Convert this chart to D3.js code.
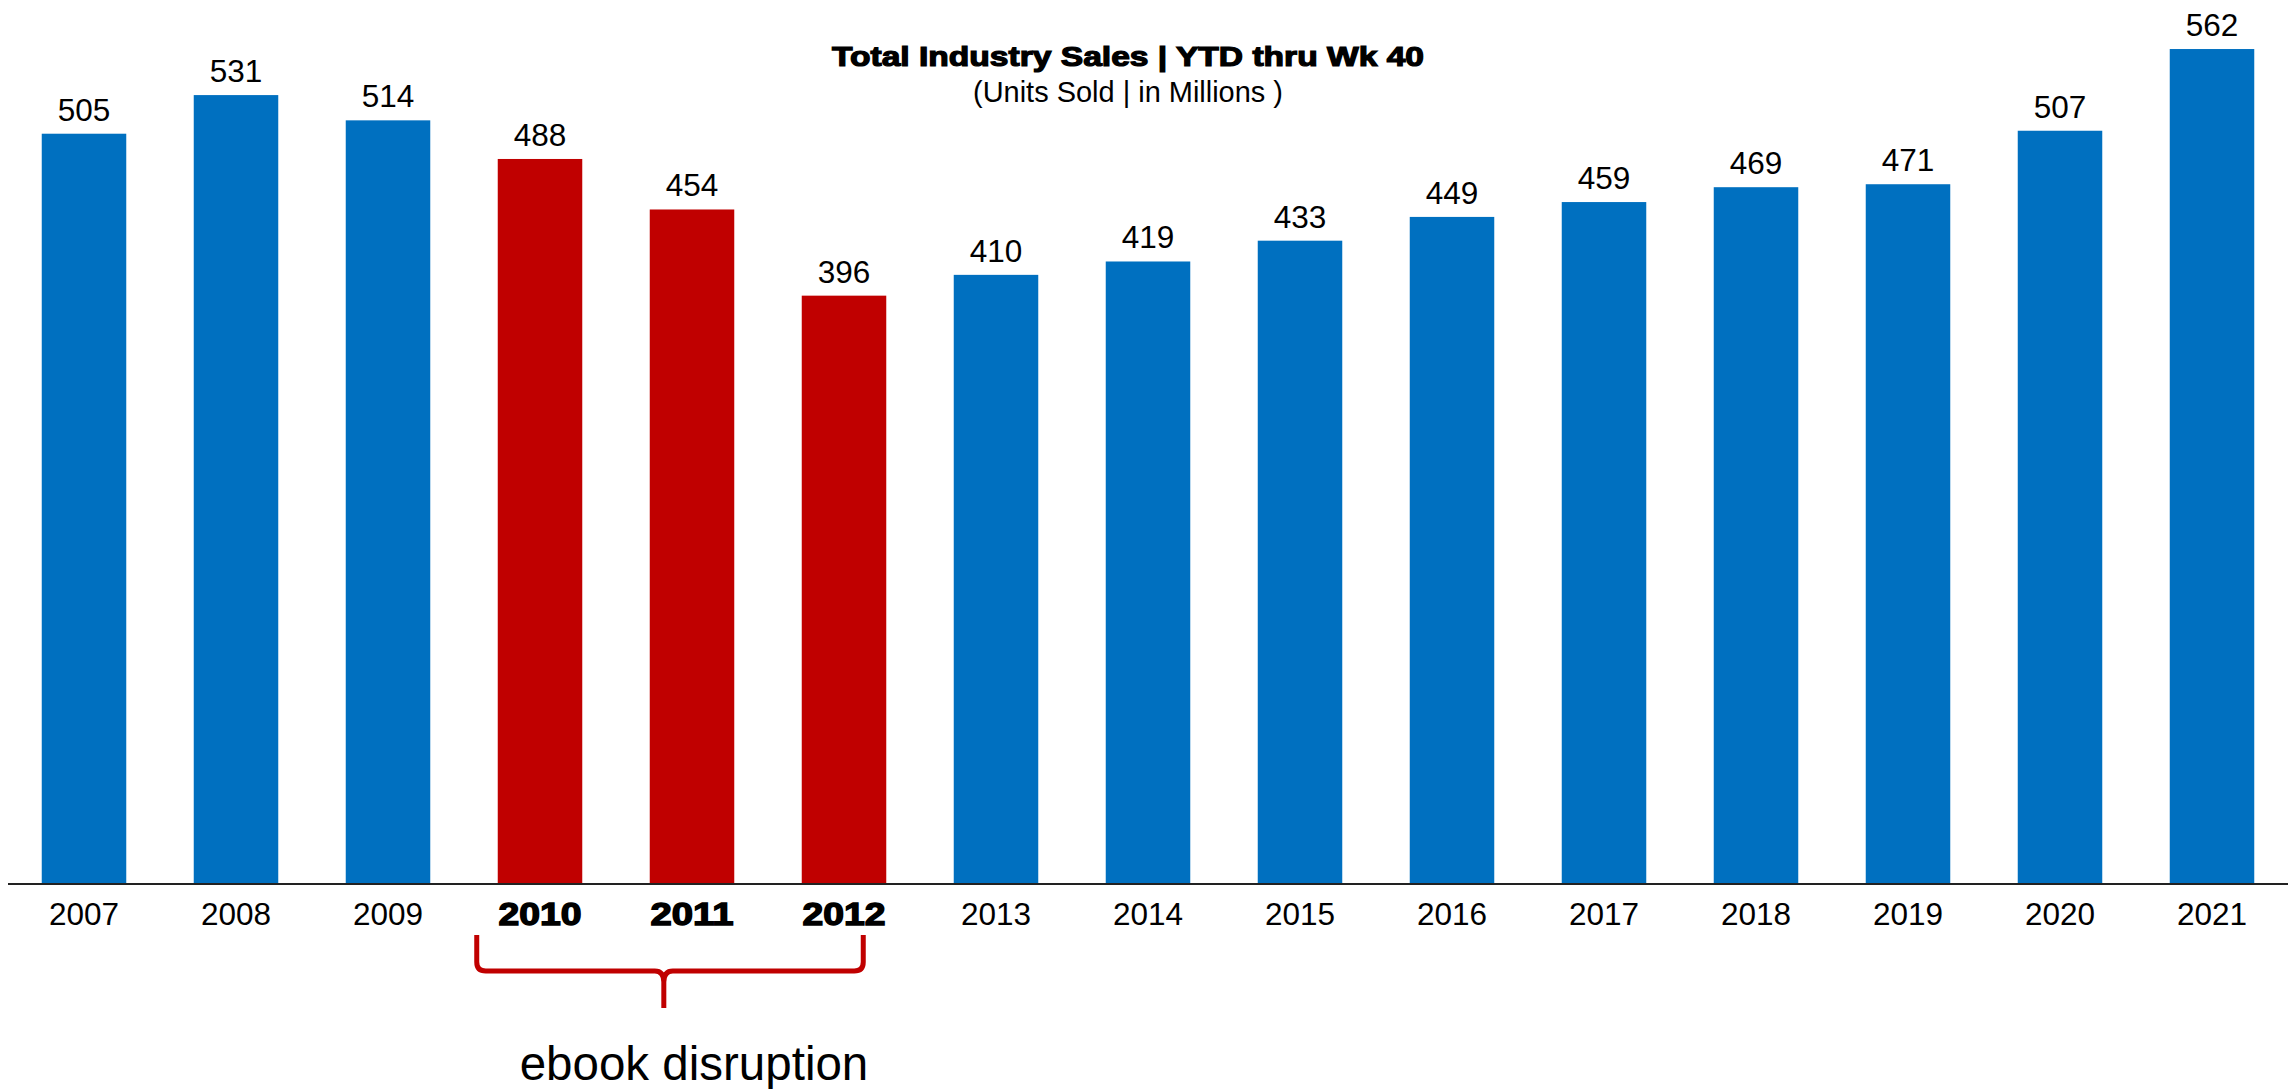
<!DOCTYPE html>
<html>
<head>
<meta charset="utf-8">
<script src="https://cdn.jsdelivr.net/npm/d3@7"></script>
<style>
  html, body { margin: 0; padding: 0; background: #fff; }
  svg { display: block; font-family: "Liberation Sans", Arial, sans-serif; }
</style>
</head>
<body>
<svg id="chart" width="2293" height="1089"></svg>
<script>
const years = ["2007","2008","2009","2010","2011","2012","2013","2014","2015","2016","2017","2018","2019","2020","2021"];
const sales = [505, 531, 514, 488, 454, 396, 410, 419, 433, 449, 459, 469, 471, 507, 562];
const disruptionYears = ["2010","2011","2012"];
const titleText = "Total Industry Sales | YTD thru Wk 40";
const subtitleText = "(Units Sold | in Millions )";
const annotationText = "ebook disruption";

const blue = "#0070C0", red = "#C00000";
const svg = d3.select("#chart");

const x = d3.scaleBand().domain(years).range([8, 2288]).paddingInner(0.444).paddingOuter(0.222);
const y = d3.scaleLinear().domain([0, 595]).range([884, 0]);
const data = years.map((yr, i) => ({ year: yr, value: sales[i], hl: disruptionYears.includes(yr) }));

// bars
svg.append("g").selectAll("rect").data(data).join("rect")
  .attr("x", d => x(d.year))
  .attr("y", d => y(d.value))
  .attr("width", x.bandwidth())
  .attr("height", d => y(0) - y(d.value))
  .attr("fill", d => d.hl ? red : blue);

// value labels
svg.append("g").selectAll("text").data(data).join("text")
  .attr("x", d => x(d.year) + x.bandwidth() / 2)
  .attr("y", d => y(d.value) - 13)
  .attr("text-anchor", "middle")
  .attr("font-size", 31.5)
  .attr("fill", "#000")
  .text(d => d.value);

// x axis
const axis = svg.append("g").attr("transform", `translate(0,${y(0)})`)
  .call(d3.axisBottom(x).tickSize(0).tickPadding(0));
axis.select(".domain").attr("stroke", "#222").attr("stroke-width", 2)
  .attr("d", `M${x.range()[0]},0H${x.range()[1]}`);
axis.selectAll(".tick text")
  .attr("y", 41).attr("dy", 0)
  .attr("font-family", "'Liberation Sans', Arial, sans-serif")
  .attr("font-size", 31.5)
  .attr("fill", "#000")
  .each(function(d) {
    if (disruptionYears.includes(d)) {
      d3.select(this).attr("font-weight", "bold")
        .attr("stroke", "#000").attr("stroke-width", 1.4)
        .attr("textLength", 83).attr("lengthAdjust", "spacingAndGlyphs");
    }
  });

// brace
const bLeft = x("2010") - 21;
const bRight = x("2012") + x.bandwidth() - 23;
const bMid = bLeft + 0.484 * (bRight - bLeft);
const yTop = 935, yH = 971, yTip = 1008, r = 9;
const bracePath = `M${bLeft},${yTop} V${yH - r} Q${bLeft},${yH} ${bLeft + r},${yH} H${bMid - r} Q${bMid},${yH} ${bMid},${yH + r + 2} V${yTip}` +
  ` M${bMid},${yH + r + 2} Q${bMid},${yH} ${bMid + r},${yH} H${bRight - r} Q${bRight},${yH} ${bRight},${yH - r} V${yTop}`;
svg.append("path").attr("d", bracePath).attr("fill", "none")
  .attr("stroke", red).attr("stroke-width", 5).attr("stroke-linejoin", "round");

svg.append("text")
  .attr("x", 694).attr("y", 1080)
  .attr("text-anchor", "middle")
  .attr("font-size", 47.5)
  .attr("fill", "#000")
  .text(annotationText);

// title
svg.append("text")
  .attr("x", 1128).attr("y", 66)
  .attr("text-anchor", "middle")
  .attr("font-size", 27).attr("font-weight", "bold")
  .attr("stroke", "#000").attr("stroke-width", 1.2)
  .attr("textLength", 592).attr("lengthAdjust", "spacingAndGlyphs")
  .text(titleText);
svg.append("text")
  .attr("x", 1128).attr("y", 102)
  .attr("text-anchor", "middle")
  .attr("font-size", 29)
  .attr("textLength", 310).attr("lengthAdjust", "spacingAndGlyphs")
  .text(subtitleText);
</script>
</body>
</html>
